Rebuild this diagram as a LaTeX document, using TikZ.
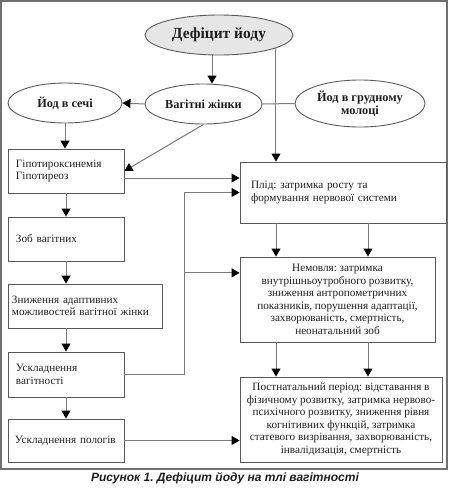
\documentclass[tikz,border=0pt]{standalone}
\usepackage{fontspec}
\setmainfont{Liberation Serif}
\newfontfamily\capfont{Liberation Sans}
\usetikzlibrary{shapes.geometric,arrows.meta,calc}
\definecolor{linec}{HTML}{7A7A7A}
\definecolor{bordc}{HTML}{5A5A5A}
\definecolor{framec}{HTML}{707070}
\definecolor{txtc}{HTML}{1E1E1E}
\definecolor{ellfill}{HTML}{E6E6E6}
\frenchspacing
\begin{document}
\begin{tikzpicture}[x=1pt,y=-1pt,
  every node/.style={text=txtc, font=\fontsize{11.2}{12.5}\selectfont},
  ell/.style={ellipse, draw=bordc, line width=0.9pt, inner sep=0pt, font=\bfseries\fontsize{12.3}{13}\selectfont, align=center},
  box/.style={rectangle, draw=bordc, line width=0.9pt, inner ysep=0pt},
  lbox/.style={box, align=left, inner xsep=8pt},
  conn/.style={draw=linec, line width=1pt},
  arr/.style={conn, -{Triangle[length=8pt,width=9pt,color=black]}},
]
\useasboundingbox (0,0) rectangle (450,488);
\draw[draw=framec, line width=1.5pt] (0.75,0.75) rectangle (447,469);

% ellipses
\node[ell, fill=ellfill, minimum width=148pt, minimum height=40pt, font=\bfseries\fontsize{15.5}{18}\selectfont] (def) at (219,35) {Дефіцит йоду};
\node[ell, minimum width=117pt, minimum height=40pt] (vag) at (203.5,104) {Вагітні жінки};
\node[ell, minimum width=114pt, minimum height=40pt] (sech) at (65,103) {Йод в сечі};
\node[ell, minimum width=130pt, minimum height=47pt] (mol) at (360,103.5) {Йод в грудному\\молоці};

% left column
\node[lbox, minimum height=44pt, text width=100pt] (hipo) at (66,171) {Гіпотироксинемія\\Гіпотиреоз};
\node[lbox, minimum height=44pt, text width=100pt] (zob) at (66,239) {Зоб вагітних};
\node[lbox, minimum height=44pt, text width=146pt, inner xsep=4pt] (znyzh) at (85,306) {Зниження адаптивних\\можливостей вагітної жінки};
\node[lbox, minimum height=45pt, text width=100pt] (uskv) at (66,374.5) {Ускладнення\\вагітності};
\node[lbox, minimum height=43pt, text width=102pt, inner xsep=7pt] (uskp) at (66,440.5) {Ускладнення пологів};

% right column
\node[box, align=left, minimum height=61pt, text width=184pt, inner xsep=11pt] (plid) at (343,192.5) {Плід: затримка росту та\\формування нервової системи};
\node[box, align=center, minimum width=195pt, minimum height=85pt] (nem) at (337.5,299.5) {Немовля: затримка\\внутрішньоутробного розвитку,\\зниження антропометричних\\показників, порушення адаптації,\\захворюваність, смертність,\\неонатальний зоб};
\node[box, align=center, minimum width=202pt, minimum height=85pt] (post) at (341,419.5) {Постнатальний період: відставання в\\фізичному розвитку, затримка нервово-\\психічного розвитку, зниження рівня\\когнітивних функцій, затримка\\статевого визрівання, захворюваність,\\інвалідизація, смертність};

% caption
\node[font=\capfont\bfseries\itshape\fontsize{12}{14}\selectfont] (cap) at (225,478.5) {Рисунок 1. Дефіцит йоду на тлі вагітності};

% helper coordinates
\coordinate (xa) at (276,0);
\coordinate (xb) at (368,0);
\coordinate (fbx) at (184,0);
\coordinate (nemin) at ($(nem.north west)!0.19!(nem.south west)$);

% connectors
\draw[arr] ([xshift=-7pt]def.south) -- ([xshift=-7pt]def.south |- vag.north);
\draw[arr] (vag.west) -- (sech.east);
\draw[conn] (vag.east) -- (mol.west);
\draw[arr] (def.-13) -- (def.-13 |- plid.north);
\draw[arr] (vag.south) -- (hipo.east);
\draw[arr] (sech.south) -- (sech.south |- hipo.north);
\draw[arr] ([yshift=-7pt]hipo.east) -- ([yshift=-7pt]hipo.east -| plid.west);
\draw[arr] (hipo.south) -- (zob.north);
\draw[arr] (zob.south) -- (zob.south |- znyzh.north);
\draw[arr] (znyzh.south -| uskv.north) -- (uskv.north);
\draw[arr] (uskv.south) -- (uskp.north);
\draw[arr] (uskp.east) -- (uskp.east -| post.west);
\draw[arr] (uskv.east) -| (fbx |- plid.west) -- (plid.west);
\draw[arr] (fbx |- nemin) -- (nemin);
\draw[arr] (xa |- plid.south) -- (xa |- nem.north);
\draw[arr] (xb |- plid.south) -- (xb |- nem.north);
\draw[arr] (xa |- nem.south) -- (xa |- post.north);
\draw[arr] (xb |- nem.south) -- (xb |- post.north);
\end{tikzpicture}
\end{document}
